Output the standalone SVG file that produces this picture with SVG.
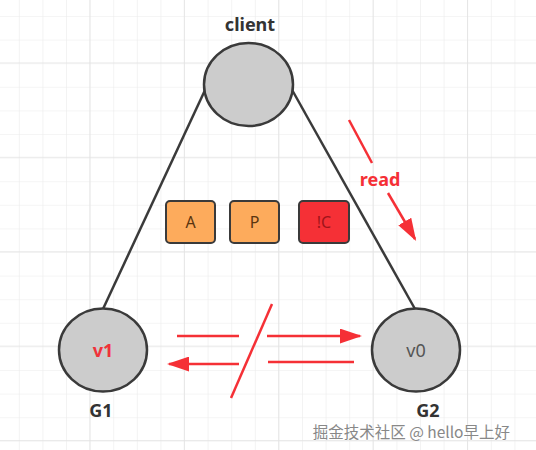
<svg xmlns="http://www.w3.org/2000/svg" width="536" height="450" viewBox="0 0 536 450">
<defs>
<pattern id="grid" x="-3.8" y="-6.6" width="23.6" height="23.6" patternUnits="userSpaceOnUse">
<path d="M23.6 0V23.6M0 23.6H23.6" fill="none" stroke="#ececec" stroke-width="1.2"/>
</pattern>
<pattern id="grid4" x="-4" y="-31" width="94.4" height="94.4" patternUnits="userSpaceOnUse">
<path d="M94.4 0V94.4M0 94.4H94.4" fill="none" stroke="#e3e3e3" stroke-width="1.6"/>
</pattern>
<marker id="ah" viewBox="0 0 10 10" refX="9" refY="5" markerWidth="9" markerHeight="6" markerUnits="strokeWidth" orient="auto" preserveAspectRatio="none">
<path d="M0 0L10 5L0 10z" fill="#f53036"/>
</marker>
</defs>
<style>
.node{fill:#cccccc;stroke:#3a3a3a;stroke-width:2.5}
.lbl{font-family:"Noto Sans","Liberation Sans",sans-serif;font-weight:bold;font-size:18px;fill:#333;text-anchor:middle}
.edge{stroke:#3a3a3a;stroke-width:2.5;fill:none}
.red{stroke:#f53036;stroke-width:2.5;fill:none}
.box{stroke:#3a3a3a;stroke-width:2}
.bt{font-family:"Noto Sans","Liberation Sans",sans-serif;font-size:16px;text-anchor:middle}
</style>
<rect width="536" height="450" fill="#fff"/>
<rect width="536" height="450" fill="url(#grid)"/>
<rect width="536" height="450" fill="url(#grid4)"/>

<g id="connectors">
<line class="edge" x1="206" y1="88" x2="103" y2="309"/>
<line class="edge" x1="291" y1="88" x2="415" y2="309"/>
</g>

<g id="client">
<text class="lbl" x="250" y="31">client</text>
<ellipse class="node" cx="248.5" cy="84.5" rx="44.5" ry="41.5"/>
</g>

<g id="G1">
<ellipse class="node" cx="103" cy="350" rx="44" ry="41.5"/>
<text class="lbl" x="103" y="357" style="fill:#f0323a">v1</text>
<text class="lbl" x="101" y="417">G1</text>
</g>

<g id="G2">
<ellipse class="node" cx="416" cy="350" rx="44" ry="41.5"/>
<text class="bt" x="416" y="357" style="fill:#555;font-size:18px">v0</text>
<text class="lbl" x="428" y="417">G2</text>
</g>

<g id="boxA">
<rect class="box" x="166" y="201" width="49" height="42" rx="4" fill="#fdab5c"/>
<text class="bt" x="190.5" y="228" fill="#5a3510">A</text>
</g>
<g id="boxP">
<rect class="box" x="230" y="201" width="49" height="42" rx="4" fill="#fdab5c"/>
<text class="bt" x="254.5" y="228" fill="#5a3510">P</text>
</g>
<g id="boxC">
<rect class="box" x="299" y="201" width="50" height="42" rx="4" fill="#f53036"/>
<text class="bt" x="324" y="228" fill="#a0141a">!C</text>
</g>

<g id="read">
<line class="red" x1="349" y1="120" x2="372" y2="163"/>
<line class="red" x1="388" y1="193" x2="415" y2="239" marker-end="url(#ah)"/>
<text class="lbl" x="380" y="186" style="fill:#f53036">read</text>
</g>

<g id="partition">
<line class="red" x1="177" y1="336" x2="239" y2="336"/>
<line class="red" x1="267" y1="336" x2="360" y2="336" marker-end="url(#ah)"/>
<line class="red" x1="239" y1="364" x2="169" y2="364" marker-end="url(#ah)"/>
<line class="red" x1="268" y1="362" x2="354" y2="362"/>
<line class="red" x1="272" y1="304" x2="231" y2="398"/>
</g>

<text x="510" y="438" text-anchor="end" font-family="'Noto Sans CJK SC','Noto Sans',sans-serif" font-size="15.5" fill="#888" stroke="#fff" stroke-width="0.6" paint-order="stroke">掘金技术社区 @ hello早上好</text>
</svg>
